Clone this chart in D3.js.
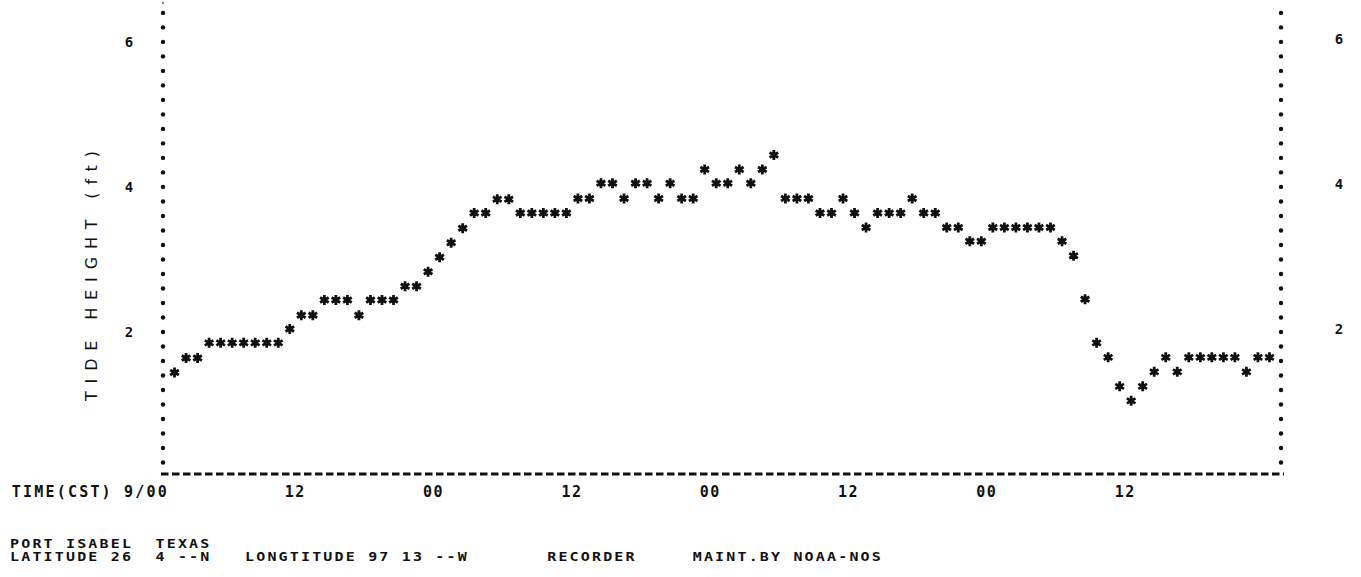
<!DOCTYPE html>
<html>
<head>
<meta charset="utf-8">
<script src="https://cdn.jsdelivr.net/npm/d3@7"></script>
<style>
  html, body { margin: 0; padding: 0; background: #fff; }
  svg { display: block; }
  text { fill: #111; }
</style>
</head>
<body>
<div id="chart"></div>
<script>
// hourly tide height (ft), first reading at hour 1 after 9/00 CST
const heights = [
  1.44, 1.64, 1.64, 1.85, 1.85, 1.85, 1.85, 1.85, 1.85, 1.85,
  2.04, 2.23, 2.23, 2.44, 2.44, 2.44, 2.23, 2.44, 2.44, 2.44,
  2.63, 2.63, 2.83, 3.03, 3.23, 3.43, 3.64, 3.64, 3.83, 3.83,
  3.64, 3.64, 3.64, 3.64, 3.64, 3.84, 3.84, 4.05, 4.05, 3.84,
  4.05, 4.05, 3.84, 4.05, 3.84, 3.84, 4.24, 4.05, 4.05, 4.24,
  4.05, 4.24, 4.44, 3.84, 3.84, 3.84, 3.64, 3.64, 3.84, 3.64,
  3.44, 3.64, 3.64, 3.64, 3.84, 3.64, 3.64, 3.44, 3.44, 3.25,
  3.25, 3.44, 3.44, 3.44, 3.44, 3.44, 3.44, 3.25, 3.05, 2.45,
  1.85, 1.65, 1.25, 1.05, 1.25, 1.45, 1.65, 1.45, 1.65, 1.65,
  1.65, 1.65, 1.65, 1.45, 1.65, 1.65
];

const timeTicks = [12, 24, 36, 48, 60, 72, 84];
const timeLabels = ["12", "00", "12", "00", "12", "00", "12"];
const heightTicks = [2, 4, 6];
const footerLines = [
  "PORT ISABEL  TEXAS",
  "LATITUDE 26  4 --N   LONGTITUDE 97 13 --W       RECORDER     MAINT.BY NOAA-NOS"
];

const W = 1361, H = 577;
const svg = d3.select("#chart").append("svg")
  .attr("width", W)
  .attr("height", H);

// scales
const x = d3.scaleLinear().domain([0, 97]).range([163, 1281]);
const y = d3.scaleLinear().domain([0, 6.55]).range([477, 2]);

const mono = "'DejaVu Sans Mono', 'Liberation Mono', monospace";

// dotted vertical axes, one dot every 0.2 ft
const dotVals = d3.range(1, 33).map(k => k * 0.2);
[x(0), x(97)].forEach(ax => {
  svg.append("g").selectAll("circle")
    .data(dotVals)
    .join("circle")
      .attr("cx", ax)
      .attr("cy", d => y(d))
      .attr("r", 2.2)
      .attr("fill", "#111");
});
// faint speck at the top of the left axis
svg.append("circle")
  .attr("cx", x(0)).attr("cy", 3).attr("r", 1).attr("fill", "#555");

// dashed time axis
const baseY = y(0.04);
svg.append("line")
  .attr("x1", x(0) - 2)
  .attr("x2", x(97) + 3)
  .attr("y1", baseY)
  .attr("y2", baseY)
  .attr("stroke", "#111")
  .attr("stroke-width", 3)
  .attr("stroke-dasharray", "7.5,3.5");

// height labels, left and right
svg.append("g").selectAll("text")
  .data(heightTicks)
  .join("text")
    .attr("x", 129)
    .attr("y", d => y(d) + 5)
    .attr("text-anchor", "middle")
    .attr("font-family", mono)
    .attr("font-weight", "bold")
    .attr("font-size", 14)
    .text(d => d);

svg.append("g").selectAll("text")
  .data(heightTicks)
  .join("text")
    .attr("x", 1339)
    .attr("y", d => y(d) + 2)
    .attr("text-anchor", "middle")
    .attr("font-family", mono)
    .attr("font-weight", "bold")
    .attr("font-size", 14)
    .text(d => d);

// y title
svg.append("text")
  .attr("transform", "translate(97,276) rotate(-90)")
  .attr("text-anchor", "middle")
  .attr("font-family", "'DejaVu Sans', sans-serif")
  .attr("font-size", 16)
  .attr("textLength", 250)
  .attr("lengthAdjust", "spacing")
  .text("TIDE HEIGHT (ft)");

// time labels
svg.append("text")
  .attr("x", x(0) + 6)
  .attr("y", 497)
  .attr("text-anchor", "end")
  .attr("font-family", mono)
  .attr("font-weight", "bold")
  .attr("font-size", 15)
  .attr("letter-spacing", 2.2)
  .style("white-space", "pre")
  .text("TIME(CST) 9/00");

svg.append("g").selectAll("text")
  .data(timeTicks)
  .join("text")
    .attr("x", d => x(d) - 6)
    .attr("y", 497)
    .attr("text-anchor", "middle")
    .attr("font-family", mono)
    .attr("font-weight", "bold")
    .attr("font-size", 15)
    .attr("letter-spacing", 1.5)
    .text((d, i) => timeLabels[i]);

// footer, printer-style squat caps
svg.append("g").selectAll("text")
  .data(footerLines)
  .join("text")
    .attr("transform", (d, i) => `translate(10,${548 + i * 13}) scale(1,0.82)`)
    .attr("font-family", mono)
    .attr("font-weight", "bold")
    .attr("font-size", 15)
    .attr("letter-spacing", 2.17)
    .style("white-space", "pre")
    .text(d => d);

// asterisk marks
const star = d3.symbol().type(d3.symbolAsterisk).size(70);
const marks = svg.append("g").selectAll("g")
  .data(heights)
  .join("g")
    .attr("transform", (d, i) => `translate(${x(i + 1)},${y(d)})`);
marks.append("path")
  .attr("d", star)
  .attr("fill", "none")
  .attr("stroke", "#111")
  .attr("stroke-width", 2.8);
marks.append("circle")
  .attr("r", 2.8)
  .attr("fill", "#111");
</script>
</body>
</html>
